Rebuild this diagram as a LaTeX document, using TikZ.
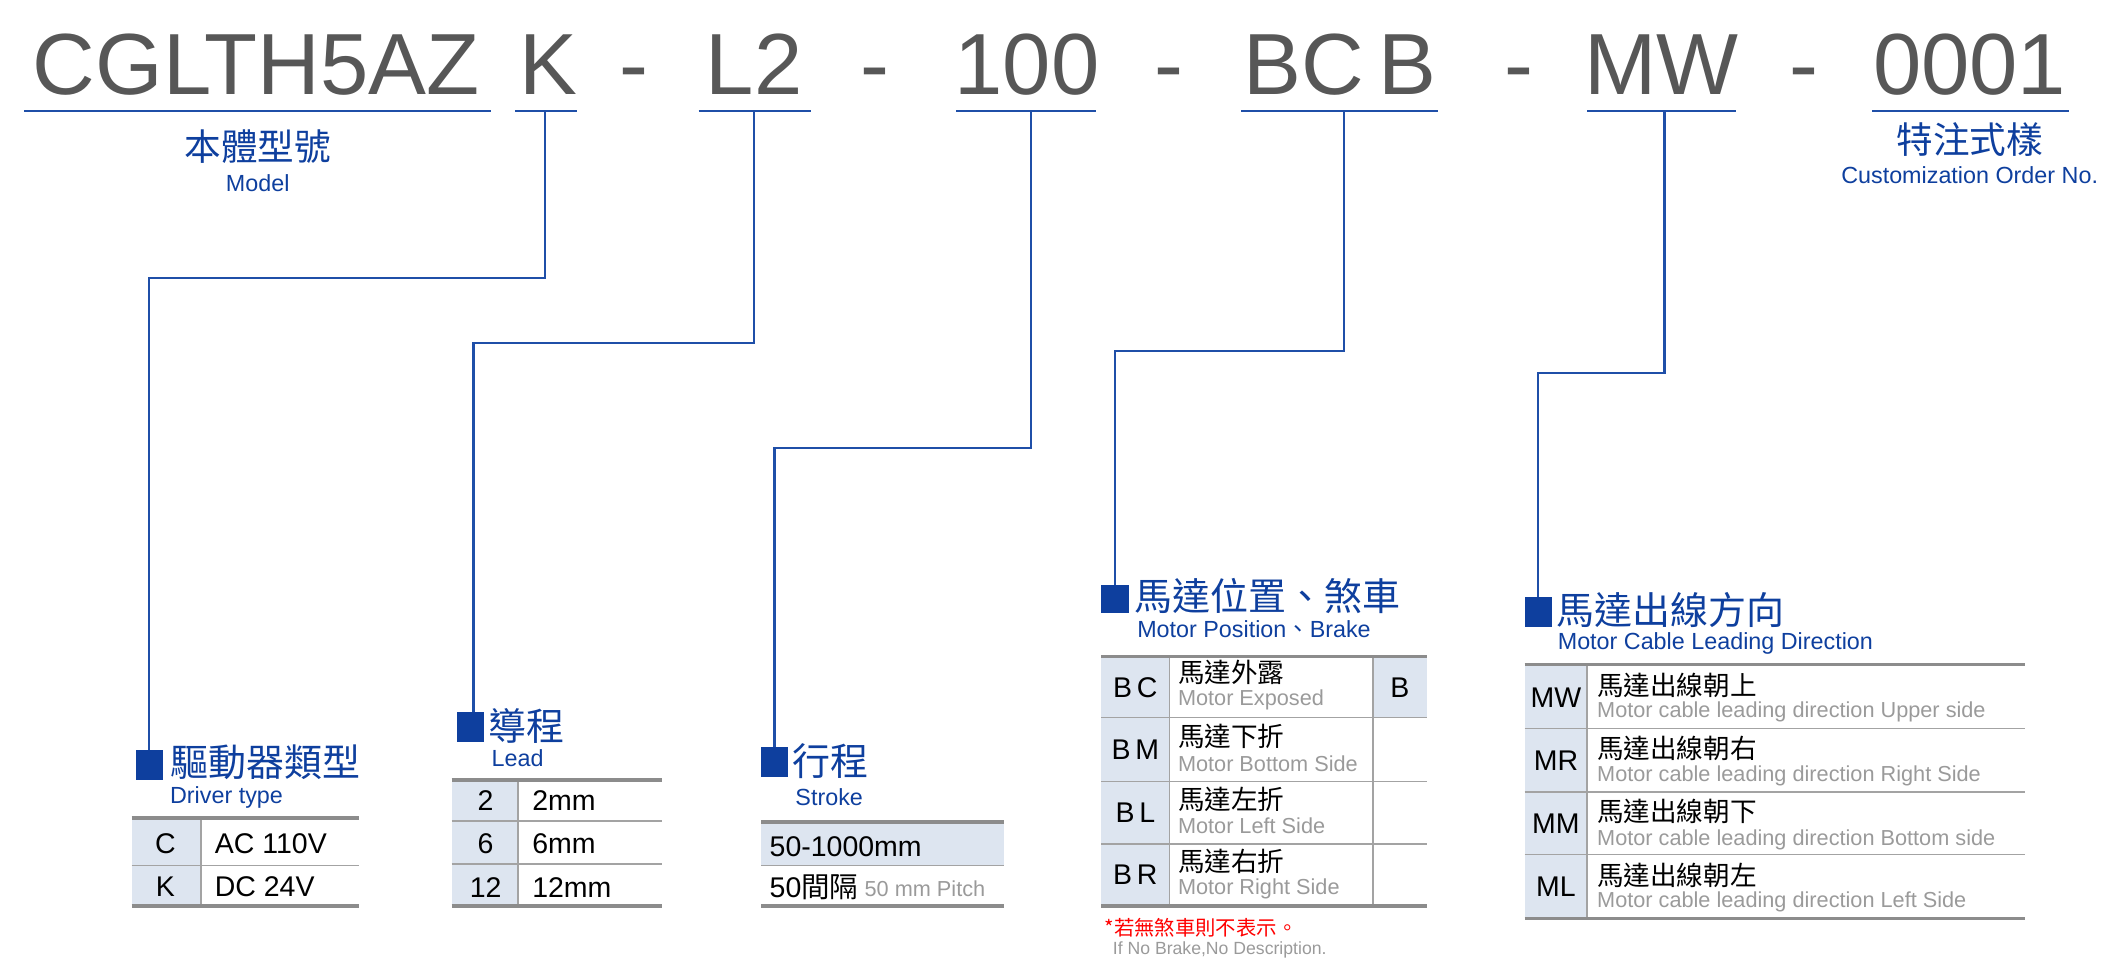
\documentclass[tikz,border=0pt]{standalone}
\usepackage{fontspec}
\setmainfont{Liberation Sans}
\newfontfamily\cjk{Noto Sans CJK TC}
\definecolor{tblue}{HTML}{0E3F9E}
\definecolor{lblue}{HTML}{1F4FA8}
\definecolor{cellblue}{HTML}{DDE5F0}
\definecolor{ttl}{HTML}{575757}
\definecolor{rule}{HTML}{8C8C8C}
\definecolor{sub}{HTML}{9A9A9A}
\begin{document}
\begin{tikzpicture}[x=0.5pt,y=-0.5pt,
  ttext/.style={font=\fontsize{32}{32}\selectfont,text=ttl,anchor=base,inner sep=0},
  uline/.style={draw=lblue,line width=0.7pt},
  conn/.style={draw=lblue,line width=0.8pt},
  sq/.style={fill=tblue,draw=none},
  cell/.style={fill=cellblue,draw=none},
  hcjk/.style={font=\cjk\fontsize{14}{14}\selectfont,text=tblue,anchor=west,inner sep=0},
  hen/.style={font=\fontsize{8.6}{9}\selectfont,text=tblue,anchor=west,inner sep=0},
  code/.style={font=\fontsize{10.5}{11}\selectfont,anchor=center,inner sep=0},
  val/.style={font=\fontsize{10.5}{11}\selectfont,anchor=west,inner sep=0},
  ccjk/.style={font=\cjk\fontsize{9.8}{10}\selectfont,anchor=west,inner sep=0},
  cen/.style={font=\fontsize{8}{8}\selectfont,text=sub,anchor=west,inner sep=0},
  thick rule/.style={draw=rule,line width=1.3pt},
  thin rule/.style={draw=rule!80,line width=0.6pt}]
\useasboundingbox (0,0) rectangle (1568,720);
% title
\node[ttext] (t1) at (189,70) {CGLTH5AZ};
\node[ttext] (t2) at (404,70) {K};
\node[ttext] at (467,70) {-};
\node[ttext] (t3) at (556,70) {L2};
\node[ttext] at (645,70) {-};
\node[ttext] (t4) at (757,70) {100};
\node[ttext] at (862,70) {-};
\node[ttext] (t5) at (988,70) {BC\,B};
\node[ttext] at (1120,70) {-};
\node[ttext] (t6) at (1225,70) {MW};
\node[ttext] at (1330,70) {-};
\node[ttext] (t7) at (1452,70) {0001};
\draw[uline] (18,82) -- (362,82);
\draw[uline] (380,82) -- (425,82);
\draw[uline] (515,82) -- (598,82);
\draw[uline] (705,82) -- (808,82);
\draw[uline] (915,82) -- (1060,82);
\draw[uline] (1170,82) -- (1280,82);
\draw[uline] (1380,82) -- (1525,82);
\node[font=\cjk\fontsize{13.5}{14}\selectfont,text=tblue,inner sep=0] (m1) at (190,108) {本體型號};
\node[font=\fontsize{8.6}{9}\selectfont,text=tblue,inner sep=0] (m2) at (190,135) {Model};
\node[font=\cjk\fontsize{13.5}{14}\selectfont,text=tblue,inner sep=0] (c1) at (1452,103) {特注式樣};
\node[font=\fontsize{8.6}{9}\selectfont,text=tblue,inner sep=0] (c2) at (1452,129) {Customization Order No.};
% connectors and squares
\coordinate (k0) at (402,82); \coordinate (l0) at (556,82); \coordinate (s0) at (760,82);
\coordinate (b0) at (991,82); \coordinate (w0) at (1227,82);
\fill[sq] (100,553) rectangle (120,575); \coordinate (k1) at (110,553);
\fill[sq] (337,525) rectangle (357,547); \coordinate (l1) at (349,525);
\fill[sq] (561,551) rectangle (581,573); \coordinate (s1) at (571,551);
\fill[sq] (812,431) rectangle (832,452); \coordinate (b1) at (822,431);
\fill[sq] (1124,440) rectangle (1144,462); \coordinate (w1) at (1134,440);
\draw[conn] (k0) |- (110,205) -- (k1);
\draw[conn] (l0) |- (349,253) -- (l1);
\draw[conn] (s0) |- (571,330) -- (s1);
\draw[conn] (b0) |- (822,259) -- (b1);
\draw[conn] (w0) |- (1134,275) -- (w1);
% headings
\node[hcjk] (h1) at (125,562) {驅動器類型};
\node[hen] (e1) at (125,588) {Driver type};
\node[hcjk] (h2) at (360,535) {導程};
\node[hen] (e2) at (362,559) {Lead};
\node[hcjk] (h3) at (584,561) {行程};
\node[hen] (e3) at (586,588) {Stroke};
\node[hcjk] (h4) at (836,439) {馬達位置、煞車};
\node[hen] (e4) at (838,464) {Motor Position{\cjk 、}Brake};
\node[hcjk] (h5) at (1147,450) {馬達出線方向};
\node[hen] (e5) at (1148,474) {Motor Cable Leading Direction};
% Driver table
\fill[cell] (97,603) rectangle (148,668);
\draw[thin rule] (97,638) -- (265,638);
\draw[thin rule] (148,603) -- (148,668);
\draw[thick rule] (97,603) -- (265,603);
\draw[thick rule] (97,668) -- (265,668);
\node[code] at (122,622) {C}; \node[val] at (158,622) {AC 110V};
\node[code] at (122,654) {K}; \node[val] at (158,654) {DC 24V};
% Lead table
\fill[cell] (333,575) rectangle (382,668);
\draw[thin rule] (333,605) -- (488,605);
\draw[thin rule] (333,637) -- (488,637);
\draw[thin rule] (382,575) -- (382,668);
\draw[thick rule] (333,575) -- (488,575);
\draw[thick rule] (333,668) -- (488,668);
\node[code] at (358,590) {2}; \node[val] at (392,590) {2mm};
\node[code] at (358,622) {6}; \node[val] at (392,622) {6mm};
\node[code] at (358,654) {12}; \node[val] at (392,654) {12mm};
% Stroke table
\fill[cell] (561,606) rectangle (740,638);
\draw[thin rule] (561,638) -- (740,638);
\draw[thick rule] (561,606) -- (740,606);
\draw[thick rule] (561,668) -- (740,668);
\node[val] at (567,624) {50-1000mm};
\node[val] at (567,654) {50{\cjk 間隔}};
\node[cen] at (637,655) {50 mm Pitch};
% BC table
\fill[cell] (812,484) rectangle (862,668);
\fill[cell] (1012,484) rectangle (1052,529);
\foreach \yy in {529,576,622} \draw[thin rule] (812,\yy) -- (1052,\yy);
\draw[thin rule] (862,484) -- (862,668);
\draw[thin rule] (1012,484) -- (1012,668);
\draw[thick rule] (812,484) -- (1052,484);
\draw[thick rule] (812,668) -- (1052,668);
\node[code] at (837,507) {B\,C}; \node[ccjk] at (868,496) {馬達外露}; \node[cen] at (868,516) {Motor Exposed};
\node[code] at (1032,507) {B};
\node[code] at (837,553) {B\,M}; \node[ccjk] at (868,543) {馬達下折}; \node[cen] at (868,563) {Motor Bottom Side};
\node[code] at (837,599) {B\,L}; \node[ccjk] at (868,589) {馬達左折}; \node[cen] at (868,609) {Motor Left Side};
\node[code] at (837,645) {B\,R}; \node[ccjk] at (868,635) {馬達右折}; \node[cen] at (868,655) {Motor Right Side};
\node[font=\cjk\fontsize{7.5}{8}\selectfont,text=red,anchor=west,inner sep=0] at (814,684) {*若無煞車則不表示。};
\node[font=\fontsize{6.5}{7}\selectfont,text=sub,anchor=west,inner sep=0] at (820,700) {If No Brake,No Description.};
% MW table
\fill[cell] (1124,490) rectangle (1170,677);
\foreach \yy in {537,584,630} \draw[thin rule] (1124,\yy) -- (1493,\yy);
\draw[thin rule] (1170,490) -- (1170,677);
\draw[thick rule] (1124,490) -- (1493,490);
\draw[thick rule] (1124,677) -- (1493,677);
\node[code] at (1147,514) {MW}; \node[ccjk] at (1177,505) {馬達出線朝上}; \node[cen] at (1177,525) {Motor cable leading direction Upper side};
\node[code] at (1147,561) {MR}; \node[ccjk] at (1177,552) {馬達出線朝右}; \node[cen] at (1177,572) {Motor cable leading direction Right Side};
\node[code] at (1147,607) {MM}; \node[ccjk] at (1177,598) {馬達出線朝下}; \node[cen] at (1177,619) {Motor cable leading direction Bottom side};
\node[code] at (1147,654) {ML}; \node[ccjk] at (1177,645) {馬達出線朝左}; \node[cen] at (1177,665) {Motor cable leading direction Left Side};
\end{tikzpicture}
\end{document}
